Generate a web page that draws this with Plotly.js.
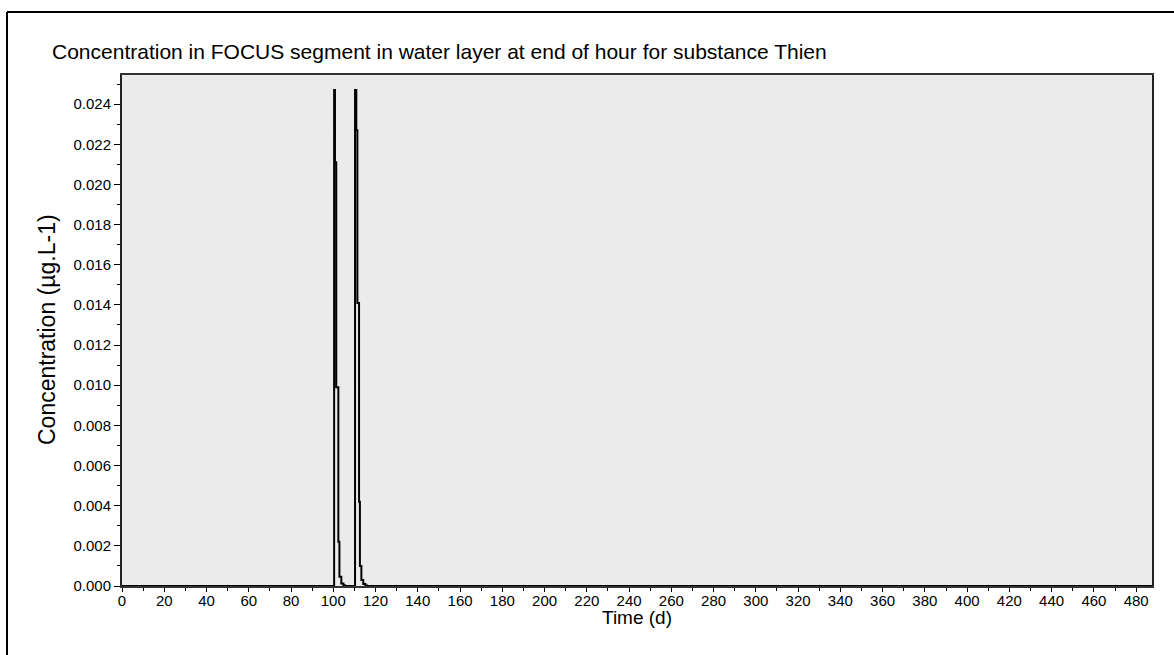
<!DOCTYPE html>
<html>
<head>
<meta charset="utf-8">
<script src="https://cdn.plot.ly/plotly-3.0.1.min.js"></script>
<style>html,body{margin:0;padding:0;background:#fff;}#chart{width:1174px;height:655px;}</style>
</head>
<body>
<div id="chart"></div>
<script>
// Time (d) and concentration (µg/L)
const timeDays = [0, 100.4, 100.8, 101.4, 102.4, 102.9, 103.8, 104.8, 105.5,
                  110.3, 110.9, 111.4, 112.2, 112.6, 113.3, 114.2, 115.2, 116.0, 487.5];
const concentration = [0, 0.0247, 0.0211, 0.0099, 0.0022, 0.00046, 0.00012, 0.00004, 0,
                       0.0247, 0.0227, 0.0141, 0.0042, 0.0010, 0.0003, 0.0001, 0.00003, 0, 0];
const xTickVals = [0,20,40,60,80,100,120,140,160,180,200,220,240,260,280,300,320,340,360,380,400,420,440,460,480];

const FONT = 'Liberation Sans, Arial, sans-serif';
const L = 122, R = 1152, T = 75, B = 586, W = 1174, H = 655;
const px = x => (x - L) / (R - L);
const py = y => (B - y) / (B - T);

const trace = {
  x: timeDays, y: concentration, type: 'scatter', mode: 'lines',
  line: {color: '#000', width: 2, shape: 'hv'}, hoverinfo: 'skip'
};

const layout = {
  width: W, height: H,
  margin: {l: L, r: W - R, t: T, b: H - B, pad: 0},
  paper_bgcolor: '#fff', plot_bgcolor: '#ebebeb',
  showlegend: false,
  font: {family: FONT, color: '#000', size: 15},
  title: {
    text: 'Concentration in FOCUS segment in water layer at end of hour for substance Thien',
    font: {family: FONT, size: 21, color: '#000'},
    xref: 'container', yref: 'container', x: 52 / W, xanchor: 'left', y: 1 - 52 / H, yanchor: 'middle'
  },
  xaxis: {
    range: [0, 487.5], tickvals: xTickVals, ticks: 'outside', ticklen: 4, tickcolor: '#000', tickwidth: 1,
    minor: {dtick: 10, tick0: 0, ticks: 'outside', ticklen: 3, tickcolor: '#000', tickwidth: 1, showgrid: false},
    showgrid: false, zeroline: false, showline: true, linecolor: '#333', linewidth: 2, mirror: true,
    tickfont: {family: FONT, size: 15, color: '#000'}, ticklabelstandoff: -4,
    fixedrange: true
  },
  yaxis: {
    range: [0, 0.02545], dtick: 0.002, tick0: 0, tickformat: '.3f', ticks: 'outside', ticklen: 6, tickcolor: '#000', tickwidth: 1,
    minor: {dtick: 0.001, tick0: 0, ticks: 'outside', ticklen: 3, tickcolor: '#000', tickwidth: 1, showgrid: false},
    showgrid: false, zeroline: false, showline: true, linecolor: '#222', linewidth: 2, mirror: true,
    tickfont: {family: FONT, size: 15, color: '#000'},
    fixedrange: true
  },
  annotations: [
    {text: 'Time (d)', xref: 'paper', yref: 'paper', x: px(637), y: py(617), xanchor: 'center', yanchor: 'middle',
     showarrow: false, font: {family: FONT, size: 19, color: '#000'}},
    {text: 'Concentration (µg.L-1)', xref: 'paper', yref: 'paper', x: px(47), y: py(330), xanchor: 'center', yanchor: 'middle',
     textangle: -90, showarrow: false, font: {family: FONT, size: 23, color: '#000'}}
  ],
  shapes: [
    {type: 'line', xref: 'paper', yref: 'paper', x0: px(7), x1: px(7), y0: py(12), y1: py(670), line: {color: '#000', width: 2}},
    {type: 'line', xref: 'paper', yref: 'paper', x0: px(7), x1: px(1190), y0: py(12), y1: py(12), line: {color: '#000', width: 2}}
  ]
};

Plotly.newPlot('chart', [trace], layout, {displayModeBar: false, staticPlot: true});
</script>
</body>
</html>
